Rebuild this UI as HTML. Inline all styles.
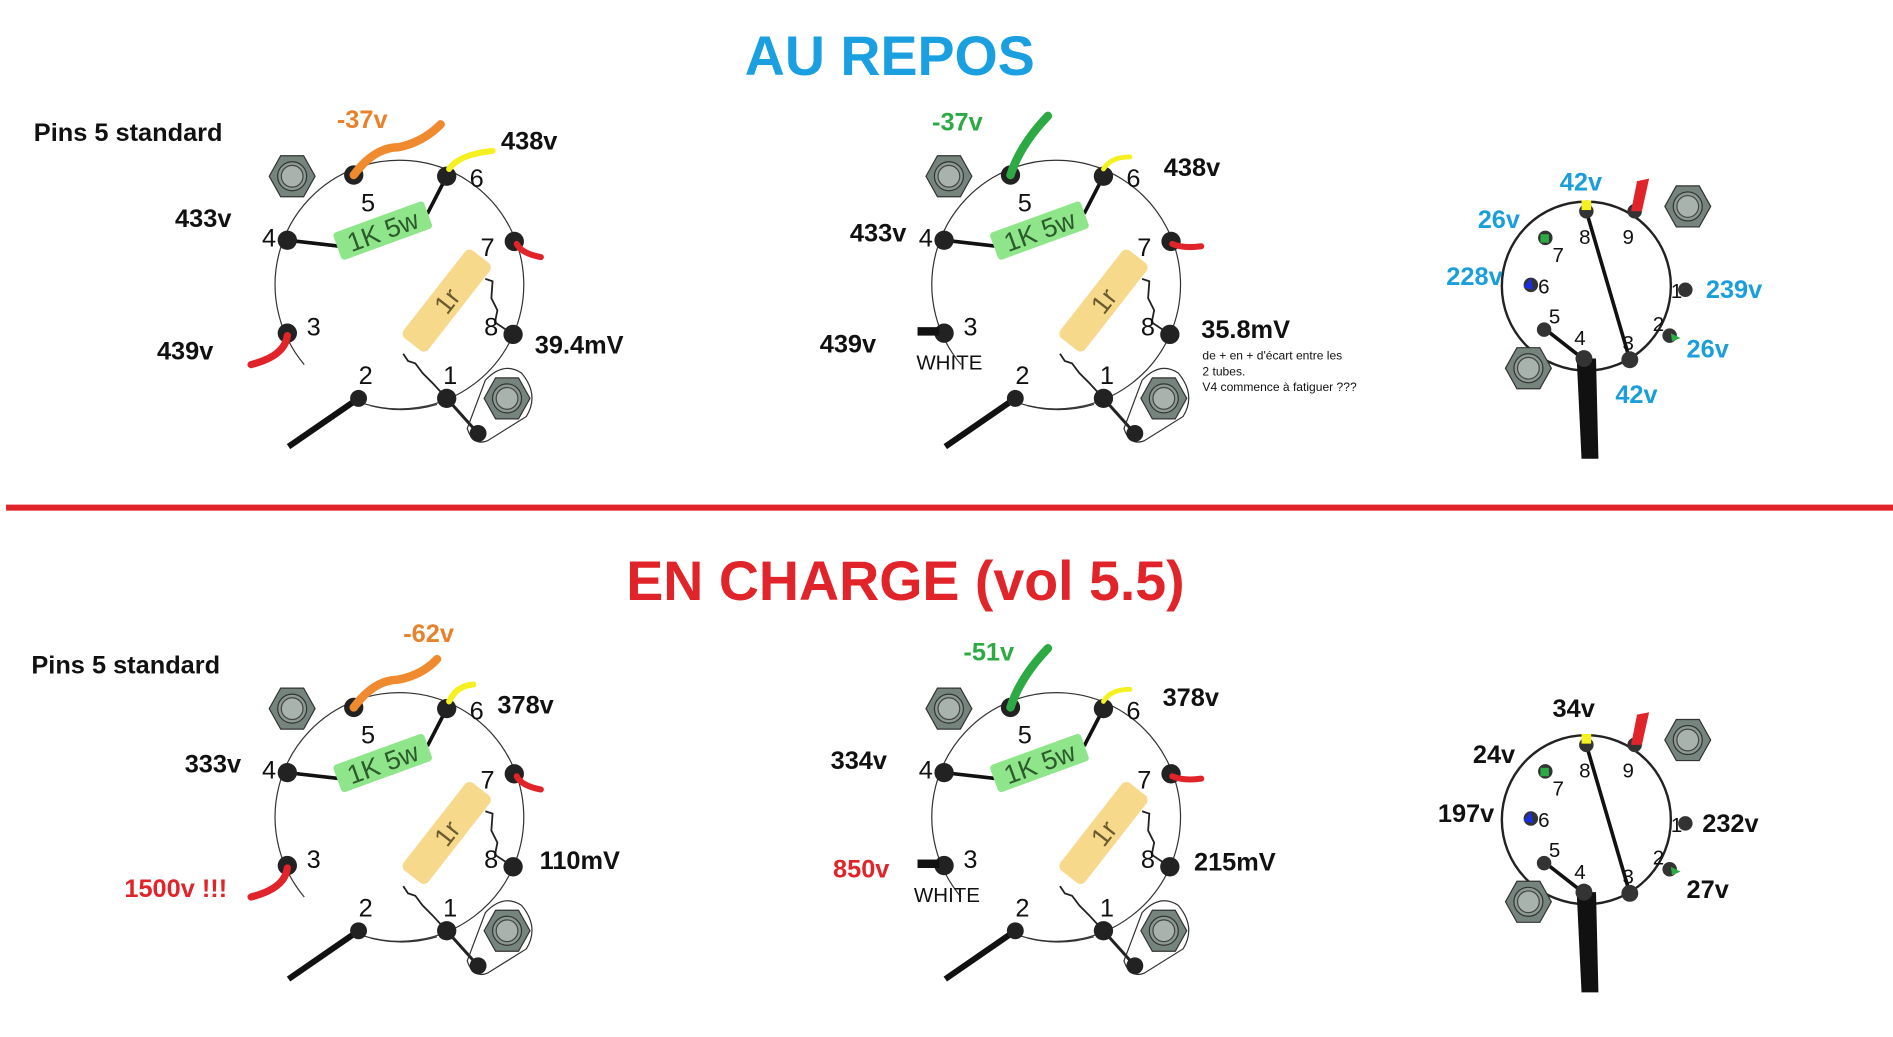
<!DOCTYPE html>
<html><head><meta charset="utf-8"><style>
html,body{margin:0;padding:0;background:#fff;}
svg{display:block;}
text{font-family:"Liberation Sans",sans-serif;}
.b{font-weight:bold;font-size:21px;fill:#111;}
.n{font-size:21px;fill:#111;}
.c{font-weight:bold;font-size:21px;fill:#1a9fdb;}
</style></head><body>
<svg width="1893" height="1037" viewBox="0 0 1568 859" preserveAspectRatio="none" xmlns="http://www.w3.org/2000/svg">
<defs>
<g id="nut">
<polygon points="-19,0 -9.5,-17 9.5,-17 19,0 9.5,17 -9.5,17" fill="#75847d" stroke="#333" stroke-width="1"/>
<circle r="12" fill="#8c9a94" stroke="#333" stroke-width="1"/>
<circle r="9" fill="#a8b3ae" stroke="#444" stroke-width="1"/>
</g>
<g id="octal">
<path d="M -80 65 A 103 103 0 1 1 -32 97" fill="none" stroke="#333" stroke-width="1"/>
<path d="M -25 99 A 103 103 0 0 0 30 98" fill="none" stroke="#333" stroke-width="1"/>
<use href="#nut" x="-90" y="-91"/>
<line x1="-94" y1="-38" x2="-50" y2="-33" stroke="#111" stroke-width="3"/>
<line x1="38" y1="-91" x2="22" y2="-60" stroke="#111" stroke-width="3"/>
<g transform="translate(-15,-46) rotate(-20)"><rect x="-40" y="-12" width="80" height="24" rx="3" fill="#8fe58a"/><text x="0" y="8" text-anchor="middle" font-size="22" fill="#2d5a2d">1K 5w</text></g>
<g transform="translate(38,12) rotate(-52)"><rect x="-46" y="-13" width="92" height="26" rx="5" fill="#f6d98a"/><text x="0" y="8" text-anchor="middle" font-size="22" fill="#6a5a30">1r</text></g>
<path d="M 70 -6 L 76 -4 L 75 10 L 80 20 L 78 30 L 93 40" fill="none" stroke="#222" stroke-width="1.5"/>
<path d="M 2 56 L 6 62 L 12 64 L 18 72 L 26 80 L 38 93" fill="none" stroke="#222" stroke-width="1.5"/>
<line x1="38" y1="93" x2="64" y2="122" stroke="#222" stroke-width="2.5"/>
<path d="M 55 118 Q 60 133 72 128 L 104 108 Q 115 90 100 72 Q 85 62 70 78 Z" fill="none" stroke="#333" stroke-width="1"/>
<use href="#nut" x="88" y="93"/>
<circle cx="64" cy="122" r="7" fill="#222"/>
<line x1="-35" y1="93" x2="-93" y2="133" stroke="#111" stroke-width="5"/>
<circle cx="-39" cy="-92" r="8" fill="#222"/>
<circle cx="38" cy="-91" r="8" fill="#222"/>
<circle cx="-94" cy="-38" r="8" fill="#222"/>
<circle cx="94" cy="-37" r="8" fill="#222"/>
<circle cx="-94" cy="39" r="8" fill="#222"/>
<circle cx="93" cy="40" r="8" fill="#222"/>
<circle cx="-35" cy="93" r="7" fill="#222"/>
<circle cx="38" cy="93" r="8" fill="#222"/>
<text class="n" x="-33" y="-62">5</text>
<text class="n" x="57" y="-82">6</text>
<text class="n" x="-115" y="-33">4</text>
<text class="n" x="66" y="-25">7</text>
<text class="n" x="-78" y="41">3</text>
<text class="n" x="69" y="41">8</text>
<text class="n" x="-35" y="81">2</text>
<text class="n" x="35" y="81">1</text>
</g>
<g id="noval">
<circle r="70" fill="none" stroke="#222" stroke-width="2"/>
<use href="#nut" x="84" y="-66"/>
<use href="#nut" x="-48" y="68"/>
<line x1="0" y1="-62" x2="36" y2="61" stroke="#111" stroke-width="3"/>
<line x1="-35" y1="35" x2="-3" y2="60" stroke="#111" stroke-width="3"/>
<path d="M -8 60 L -4 143 L 10 143 L 8 60 Z" fill="#111"/>
<circle cx="0" cy="-62" r="6" fill="#333"/>
<circle cx="40" cy="-62" r="6" fill="#333"/>
<circle cx="-34" cy="-40" r="6" fill="#333"/>
<circle cx="-46" cy="-1" r="6" fill="#333"/>
<circle cx="82" cy="3" r="6" fill="#333"/>
<circle cx="-35" cy="36" r="6" fill="#333"/>
<circle cx="69" cy="41" r="6" fill="#333"/>
<circle cx="-2" cy="60" r="7" fill="#333"/>
<circle cx="36" cy="61" r="7" fill="#333"/>
<text x="-6" y="-35" font-size="17" fill="#111">8</text>
<text x="30" y="-35" font-size="17" fill="#111">9</text>
<text x="-28" y="-20" font-size="17" fill="#111">7</text>
<text x="-40" y="6" font-size="17" fill="#111">6</text>
<text x="70" y="10" font-size="17" fill="#111">1</text>
<text x="-31" y="31" font-size="17" fill="#111">5</text>
<text x="55" y="37" font-size="17" fill="#111">2</text>
<text x="-10" y="49" font-size="17" fill="#111">4</text>
<text x="30" y="53" font-size="17" fill="#111">3</text>
</g>
</defs>

<text x="737" y="62" text-anchor="middle" font-size="46" font-weight="bold" fill="#1aa0e0">AU REPOS</text>
<rect x="5" y="418" width="1563" height="5" fill="#e0242a"/>
<text x="750" y="497" text-anchor="middle" font-size="46" font-weight="bold" fill="#e0242a">EN CHARGE (vol 5.5)</text>

<!-- top left -->
<use href="#octal" x="332" y="237"/>
<path d="M 293 145 Q 310 122 330 122 Q 350 118 365 103" fill="none" stroke="#ef8a2e" stroke-width="7" stroke-linecap="round"/>
<path d="M 372 140 Q 380 128 408 125" fill="none" stroke="#f5f020" stroke-width="5" stroke-linecap="round"/>
<path d="M 428 202 Q 432 210 448 213" fill="none" stroke="#e0242a" stroke-width="5" stroke-linecap="round"/>
<path d="M 238 278 Q 236 295 208 302" fill="none" stroke="#e0242a" stroke-width="6" stroke-linecap="round"/>
<text class="b" x="28" y="117">Pins 5 standard</text>
<text class="b" x="279" y="106" style="fill:#e8822a">-37v</text>
<text class="b" x="415" y="124">438v</text>
<text class="b" x="145" y="188">433v</text>
<text class="b" x="130" y="298">439v</text>
<text class="b" x="443" y="293">39.4mV</text>

<!-- top middle -->
<use href="#octal" x="876" y="237"/>
<rect x="760" y="271" width="18" height="7" fill="#111"/>
<path d="M 837 145 Q 845 120 868 96" fill="none" stroke="#2daa44" stroke-width="7" stroke-linecap="round"/>
<path d="M 914 140 Q 920 130 936 130" fill="none" stroke="#f5f020" stroke-width="4" stroke-linecap="round"/>
<path d="M 971 202 Q 980 206 995 204" fill="none" stroke="#e0242a" stroke-width="5" stroke-linecap="round"/>
<text class="b" x="772" y="108" style="fill:#2daa44">-37v</text>
<text class="b" x="964" y="146">438v</text>
<text class="b" x="704" y="200">433v</text>
<text class="b" x="679" y="292">439v</text>
<text class="b" x="995" y="280">35.8mV</text>
<text x="759" y="306" font-size="17" fill="#111">WHITE</text>
<text x="996" y="298" font-size="10" fill="#111">de + en + d'écart entre les</text>
<text x="996" y="311" font-size="10" fill="#111">2 tubes.</text>
<text x="996" y="324" font-size="10" fill="#111">V4 commence à fatiguer ???</text>

<!-- top right -->
<use href="#noval" x="1314" y="237"/>
<path d="M 1351 175 L 1356 150 L 1366 148 L 1360 175 Z" fill="#e0242a"/>
<rect x="1310" y="166" width="8" height="8" fill="#f5f020"/>
<rect x="1276" y="194" width="7" height="7" fill="#2daa44"/>
<path d="M 1262 238 L 1268 230 L 1270 240 Z" fill="#1a2ee0"/>
<path d="M 1384 276 L 1392 280 L 1385 283 Z" fill="#2daa44"/>
<text class="c" x="1292" y="158">42v</text>
<text class="c" x="1224" y="189">26v</text>
<text class="c" x="1198" y="236">228v</text>
<text class="c" x="1413" y="247">239v</text>
<text class="c" x="1397" y="296">26v</text>
<text class="c" x="1338" y="334">42v</text>

<!-- bottom left -->
<use href="#octal" x="332" y="678"/>
<path d="M 293 586 Q 310 563 330 563 Q 350 559 362 546" fill="none" stroke="#ef8a2e" stroke-width="7" stroke-linecap="round"/>
<path d="M 372 581 Q 378 568 392 567" fill="none" stroke="#f5f020" stroke-width="5" stroke-linecap="round"/>
<path d="M 428 643 Q 432 651 448 654" fill="none" stroke="#e0242a" stroke-width="5" stroke-linecap="round"/>
<path d="M 238 719 Q 236 736 208 743" fill="none" stroke="#e0242a" stroke-width="6" stroke-linecap="round"/>
<text class="b" x="26" y="558">Pins 5 standard</text>
<text class="b" x="334" y="532" style="fill:#e8822a">-62v</text>
<text class="b" x="412" y="591">378v</text>
<text class="b" x="153" y="640">333v</text>
<text class="b" x="103" y="743" style="fill:#e0242a">1500v !!!</text>
<text class="b" x="447" y="720">110mV</text>

<!-- bottom middle -->
<use href="#octal" x="876" y="678"/>
<rect x="760" y="712" width="18" height="7" fill="#111"/>
<path d="M 837 586 Q 845 561 868 537" fill="none" stroke="#2daa44" stroke-width="7" stroke-linecap="round"/>
<path d="M 914 581 Q 920 571 936 571" fill="none" stroke="#f5f020" stroke-width="4" stroke-linecap="round"/>
<path d="M 971 643 Q 980 647 995 645" fill="none" stroke="#e0242a" stroke-width="5" stroke-linecap="round"/>
<text class="b" x="798" y="547" style="fill:#2daa44">-51v</text>
<text class="b" x="963" y="585">378v</text>
<text class="b" x="688" y="637">334v</text>
<text class="b" x="690" y="727" style="fill:#e0242a">850v</text>
<text class="b" x="989" y="721">215mV</text>
<text x="757" y="747" font-size="17" fill="#111">WHITE</text>

<!-- bottom right -->
<use href="#noval" x="1314" y="679"/>
<path d="M 1351 617 L 1356 592 L 1366 590 L 1360 617 Z" fill="#e0242a"/>
<rect x="1310" y="608" width="8" height="8" fill="#f5f020"/>
<rect x="1276" y="636" width="7" height="7" fill="#2daa44"/>
<path d="M 1262 680 L 1268 672 L 1270 682 Z" fill="#1a2ee0"/>
<path d="M 1384 718 L 1392 722 L 1385 725 Z" fill="#2daa44"/>
<text class="b" x="1286" y="594">34v</text>
<text class="b" x="1220" y="632">24v</text>
<text class="b" x="1191" y="681">197v</text>
<text class="b" x="1410" y="689">232v</text>
<text class="b" x="1397" y="744">27v</text>
</svg>
</body></html>
